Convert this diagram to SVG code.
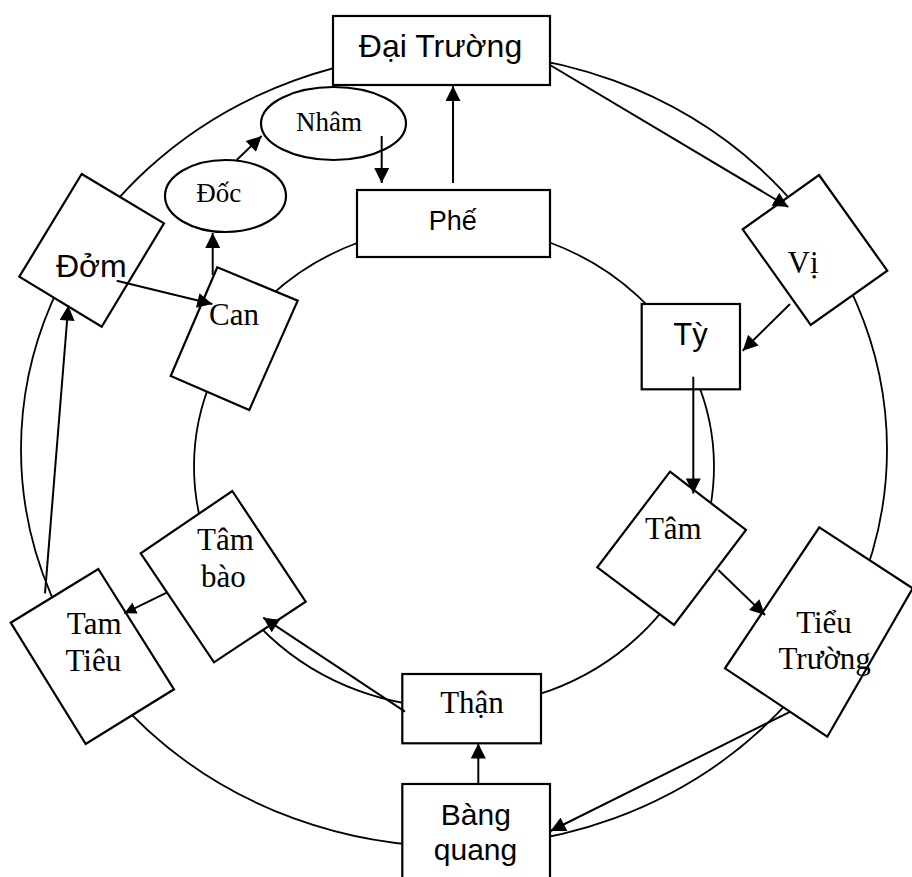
<svg xmlns="http://www.w3.org/2000/svg" width="912" height="877" viewBox="0 0 912 877">
  <style>
    .ring { fill: none; stroke: #000; stroke-width: 1.8; }
    .box { fill: #fff; stroke: #000; stroke-width: 2.2; }
    .edge { fill: none; stroke: #000; stroke-width: 2; marker-end: url(#head); }
    .edge.small { marker-end: url(#headSmall); }
    .sans { font-family: "Liberation Sans", Arial, sans-serif; font-size: 31px; text-anchor: middle; fill: #000; }
    .serif { font-family: "Liberation Serif", "Times New Roman", serif; font-size: 31px; text-anchor: middle; fill: #000; }
    .serif.sm { font-size: 27px; }
  </style>
  <defs>
    <marker id="head" viewBox="0 0 10 10" refX="10" refY="5" markerWidth="16" markerHeight="15" markerUnits="userSpaceOnUse" orient="auto">
      <path d="M0,0 L10,5 L0,10 z" fill="#000"/>
    </marker>
    <marker id="headSmall" viewBox="0 0 10 10" refX="10" refY="5" markerWidth="12" markerHeight="12" markerUnits="userSpaceOnUse" orient="auto">
      <path d="M0,0 L10,5 L0,10 z" fill="#000"/>
    </marker>
  </defs>

  <rect width="912" height="877" fill="#fff"/>

  <!-- the two cycle rings -->
  <g id="rings">
    <ellipse class="ring" cx="454" cy="449.5" rx="433" ry="397"/>
    <ellipse class="ring" cx="454" cy="466.6" rx="260" ry="241"/>
  </g>

  <!-- nodes -->
  <g id="dai-truong">
    <rect class="box" x="333" y="16" width="217" height="69"/>
    <text class="sans" x="440.5" y="57" style="font-size:32px">Đại Trường</text>
  </g>
  <g id="nham">
    <ellipse class="box" cx="333.5" cy="123.5" rx="72.5" ry="36.5"/>
    <text class="serif sm" x="329" y="131">Nhâm</text>
  </g>
  <g id="doc">
    <ellipse class="box" cx="225.5" cy="196" rx="60.5" ry="36"/>
    <text class="serif sm" x="218.7" y="202">Đốc</text>
  </g>
  <g id="phe">
    <rect class="box" x="357" y="190" width="193" height="67"/>
    <text class="sans" x="452.8" y="230" style="font-size:27px">Phế</text>
  </g>
  <g id="dom">
    <polygon class="box" points="81.7,174 164,223.3 101.7,326.7 19.3,276.7"/>
    <text class="sans" x="91.3" y="277" style="font-size:32px">Đởm</text>
  </g>
  <g id="can">
    <polygon class="box" points="217.3,267.3 297.7,300.7 249.3,410 170.7,376"/>
    <text class="serif" x="234" y="325">Can</text>
  </g>
  <g id="vi">
    <polygon class="box" points="819,175 887.3,270.7 810.7,325 742.7,229.3"/>
    <text class="serif" x="803" y="273">Vị</text>
  </g>
  <g id="ty">
    <rect class="box" x="641.7" y="304" width="98.3" height="85.3"/>
    <text class="sans" x="690.5" y="345">Tỳ</text>
  </g>
  <g id="tam">
    <polygon class="box" points="670,471.7 746,530 674,625 597.3,567.3"/>
    <text class="serif" x="673.3" y="539">Tâm</text>
  </g>
  <g id="tieu-truong">
    <polygon class="box" points="819.3,527.3 912.7,588.3 827.3,736.7 725,668.3"/>
    <text class="serif" x="824" y="632.7">Tiểu</text>
    <text class="serif" x="824.7" y="669.3">Trường</text>
  </g>
  <g id="than">
    <rect class="box" x="402.3" y="674" width="138.7" height="69.3"/>
    <text class="serif" x="472" y="713.3">Thận</text>
  </g>
  <g id="bang-quang">
    <rect class="box" x="402.3" y="784" width="147.7" height="100"/>
    <text class="sans" x="475.8" y="825" style="font-size:30px">Bàng</text>
    <text class="sans" x="475.5" y="860" style="font-size:30px">quang</text>
  </g>
  <g id="tam-bao">
    <polygon class="box" points="232.3,491 305.7,601.7 214,662.3 140.7,553.3"/>
    <text class="serif" x="225.5" y="550">Tâm</text>
    <text class="serif" x="223.3" y="586.7">bào</text>
  </g>
  <g id="tam-tieu">
    <polygon class="box" points="98.3,569 174,689.3 85.7,744 10.7,622.7"/>
    <text class="serif" x="94.2" y="634.3">Tam</text>
    <text class="serif" x="93.3" y="671">Tiêu</text>
  </g>

  <!-- connectors -->
  <g id="connectors">
    <line class="edge" x1="453" y1="183" x2="453" y2="86"/>
    <line class="edge" x1="381.7" y1="136" x2="381.7" y2="183"/>
    <line class="edge" x1="236.7" y1="160" x2="261.7" y2="136"/>
    <line class="edge" x1="212.7" y1="275" x2="212.7" y2="233"/>
    <line class="edge" x1="116.7" y1="280.7" x2="212.3" y2="304"/>
    <line class="edge" x1="45" y1="593.3" x2="68.3" y2="305.5"/>
    <line class="edge small" x1="166.7" y1="592.7" x2="124.3" y2="613.3"/>
    <line class="edge" x1="405" y1="711.7" x2="263.3" y2="617.7"/>
    <line class="edge" x1="478.3" y1="784" x2="478.3" y2="743.5"/>
    <line class="edge" x1="790" y1="711.8" x2="550.5" y2="831"/>
    <line class="edge" x1="718.3" y1="570" x2="765" y2="615"/>
    <line class="edge" x1="693.3" y1="376.7" x2="693.3" y2="493.5"/>
    <line class="edge" x1="790" y1="304" x2="742.7" y2="350.7"/>
    <line class="edge" x1="550" y1="65" x2="788.3" y2="207"/>
  </g>
</svg>
